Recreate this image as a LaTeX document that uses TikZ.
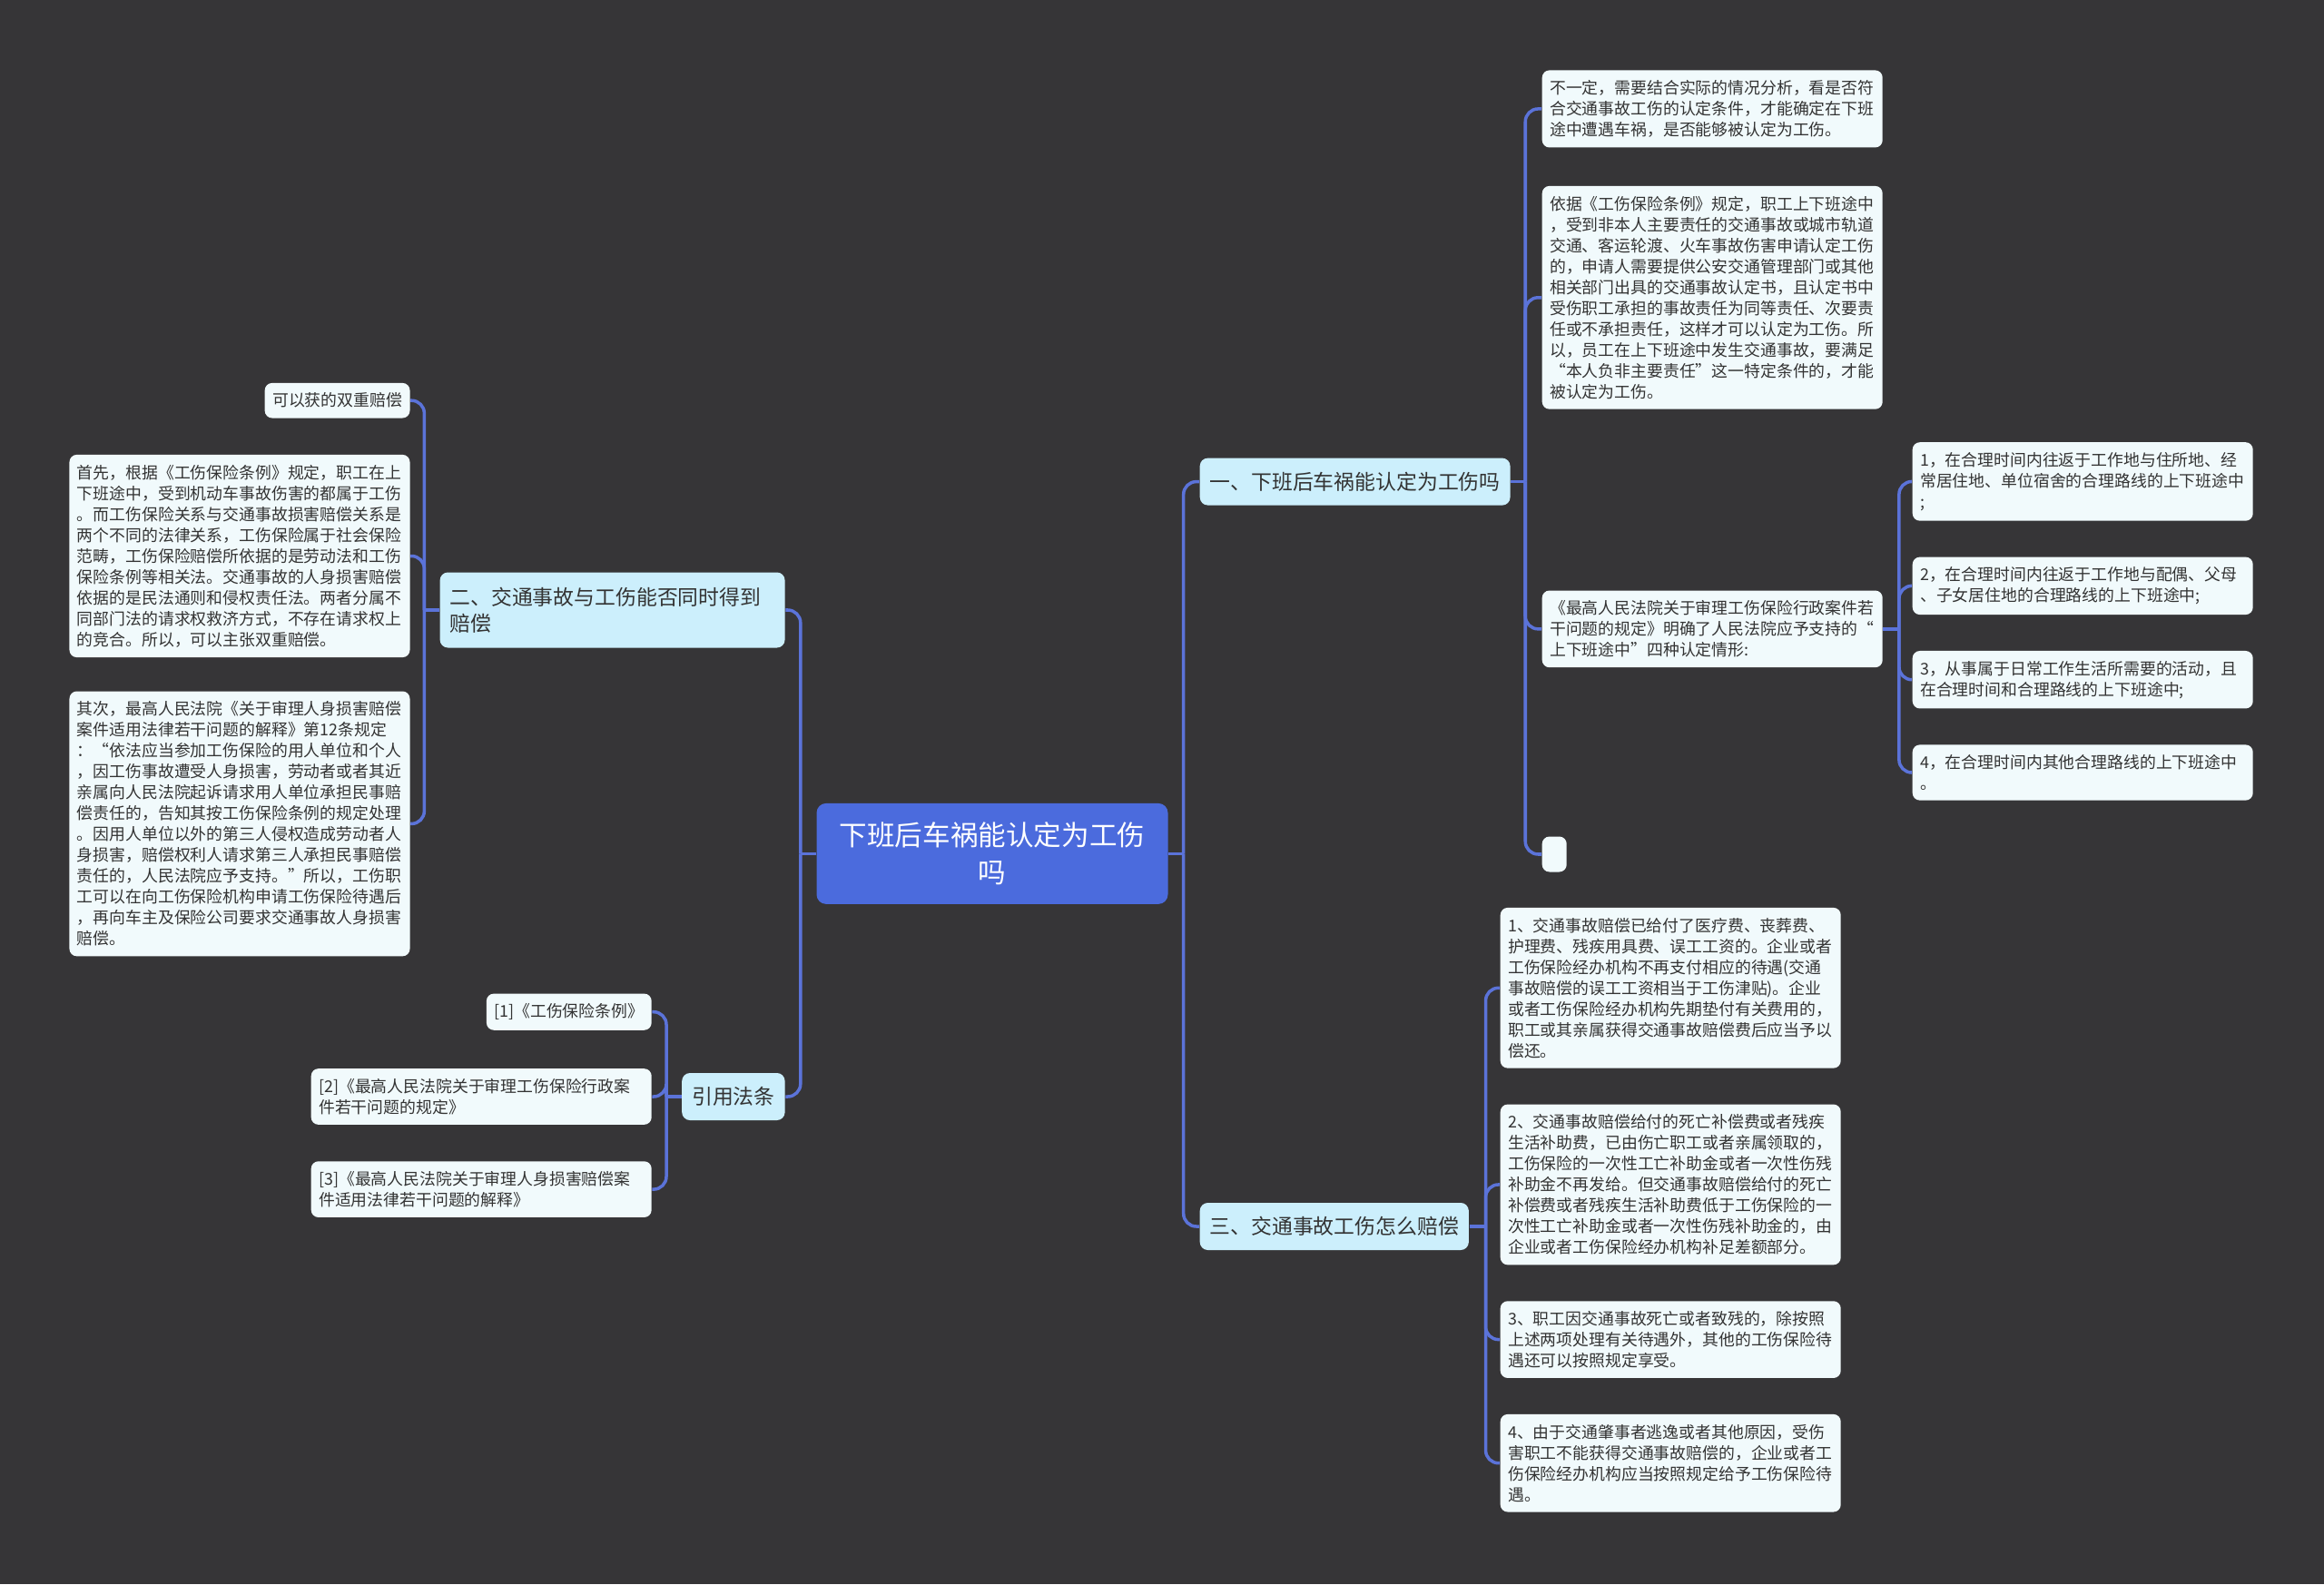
\documentclass[tikz,border=0pt]{standalone}
\usepackage{fontspec}
\setmainfont{Noto Sans CJK SC}
\usepackage{tikz}
\usetikzlibrary{positioning, calc}
\definecolor{bgdark}{HTML}{363537}
\definecolor{linkblue}{HTML}{5B73D9}
\definecolor{rootblue}{HTML}{4B6BDD}
\definecolor{branchcyan}{HTML}{CCEFFC}
\definecolor{leafwhite}{HTML}{F1FAFC}
\definecolor{inkgray}{HTML}{333333}
\tikzset{
  rootbox/.style={rectangle, rounded corners=3pt, fill=rootblue, text=white,
                  text width=3.4cm, align=center, inner xsep=0.235cm,
                  minimum height=1.11cm,
                  font={\fontsize{8.7pt}{11.6pt}\selectfont}},
  branchbox/.style={rectangle, rounded corners=2.5pt, fill=branchcyan,
                    text=inkgray, inner xsep=0.11cm, inner ysep=0.1cm,
                    minimum height=0.52cm,
                    font={\fontsize{6.5pt}{8.3pt}\selectfont}},
  leafbase/.style={rectangle, rounded corners=2.3pt, fill=leafwhite,
                   text=inkgray, inner xsep=0.085cm, inner ysep=0.11cm,
                   font={\fontsize{5.08pt}{6.55pt}\selectfont}},
  leafbox/.style={leafbase, text width=3.58cm, align=left},
  link/.style={draw=linkblue, line width=1pt, rounded corners=4pt},
}

\begin{document}
\begin{tikzpicture}[node distance=0.385cm]
  \fill[bgdark] (0,0) rectangle (25.6,17.45);
  \useasboundingbox (0,0) rectangle (25.6,17.45);

  % Root
  \node[rootbox] (root) at (10.93,8.046) {下班后车祸能认定为工伤\\吗};

  % Branches
  \node[branchbox, anchor=west] (br1) at (13.21,12.144)
    {一、下班后车祸能认定为工伤吗};
  \node[branchbox, anchor=west] (br3) at (13.21,3.94)
    {三、交通事故工伤怎么赔偿};
  \node[branchbox, anchor=east, text width=3.58cm, align=left,
        minimum height=0.83cm] (br2) at (8.653,10.73)
    {二、交通事故与工伤能否同时得到\\赔偿};
  \node[branchbox, anchor=east] (br4) at (8.653,5.37) {引用法条};

  % Branch one leaves
  \node[leafbox, anchor=north west] (judge) at (16.98,16.683)
    {不一定，需要结合实际的情况分析，看是否符\\
     合交通事故工伤的认定条件，才能确定在下班\\
     途中遭遇车祸，是否能够被认定为工伤。};
  \node[leafbox, below=0.41cm of judge] (basis)
    {依据《工伤保险条例》规定，职工上下班途中\\
     ，受到非本人主要责任的交通事故或城市轨道\\
     交通、客运轮渡、火车事故伤害申请认定工伤\\
     的，申请人需要提供公安交通管理部门或其他\\
     相关部门出具的交通事故认定书，且认定书中\\
     受伤职工承担的事故责任为同等责任、次要责\\
     任或不承担责任，这样才可以认定为工伤。所\\
     以，员工在上下班途中发生交通事故，要满足\\
     “本人负非主要责任”这一特定条件的，才能\\
     被认定为工伤。};
  \node[leafbox, anchor=north west] (rule) at (16.98,10.952)
    {《最高人民法院关于审理工伤保险行政案件若\\
     干问题的规定》明确了人民法院应予支持的“\\
     上下班途中”四种认定情形:};
  \node[leafbase, anchor=north west, minimum width=0.27cm,
        minimum height=0.39cm, inner sep=0pt] (blank) at (16.98,8.242) {};

  % Four cases
  \node[leafbox, anchor=north west] (case1) at (21.06,12.585)
    {1，在合理时间内往返于工作地与住所地、经\\
     常居住地、单位宿舍的合理路线的上下班途中\\
     ;};
  \node[leafbox, below=of case1] (case2)
    {2，在合理时间内往返于工作地与配偶、父母\\
     、子女居住地的合理路线的上下班途中;};
  \node[leafbox, below=of case2] (case3)
    {3，从事属于日常工作生活所需要的活动，且\\
     在合理时间和合理路线的上下班途中;};
  \node[leafbox, below=of case3] (case4)
    {4，在合理时间内其他合理路线的上下班途中\\
     。};

  % Branch three leaves
  \node[leafbox, anchor=north west] (pay1) at (16.52,7.458)
    {1、交通事故赔偿已给付了医疗费、丧葬费、\\
     护理费、残疾用具费、误工工资的。企业或者\\
     工伤保险经办机构不再支付相应的待遇(交通\\
     事故赔偿的误工工资相当于工伤津贴)。企业\\
     或者工伤保险经办机构先期垫付有关费用的，\\
     职工或其亲属获得交通事故赔偿费后应当予以\\
     偿还。};
  \node[leafbox, below=of pay1] (pay2)
    {2、交通事故赔偿给付的死亡补偿费或者残疾\\
     生活补助费，已由伤亡职工或者亲属领取的，\\
     工伤保险的一次性工亡补助金或者一次性伤残\\
     补助金不再发给。但交通事故赔偿给付的死亡\\
     补偿费或者残疾生活补助费低于工伤保险的一\\
     次性工亡补助金或者一次性伤残补助金的，由\\
     企业或者工伤保险经办机构补足差额部分。};
  \node[leafbox, below=of pay2] (pay3)
    {3、职工因交通事故死亡或者致残的，除按照\\
     上述两项处理有关待遇外，其他的工伤保险待\\
     遇还可以按照规定享受。};
  \node[leafbox, below=of pay3] (pay4)
    {4、由于交通肇事者逃逸或者其他原因，受伤\\
     害职工不能获得交通事故赔偿的，企业或者工\\
     伤保险经办机构应当按照规定给予工伤保险待\\
     遇。};

  % Branch two leaves
  \node[leafbase, anchor=north east] (dbl) at (4.522,13.238)
    {可以获的双重赔偿};
  \node[leafbox, below=0.39cm of dbl.south east, anchor=north east] (first)
    {首先，根据《工伤保险条例》规定，职工在上\\
     下班途中，受到机动车事故伤害的都属于工伤\\
     。而工伤保险关系与交通事故损害赔偿关系是\\
     两个不同的法律关系，工伤保险属于社会保险\\
     范畴，工伤保险赔偿所依据的是劳动法和工伤\\
     保险条例等相关法。交通事故的人身损害赔偿\\
     依据的是民法通则和侵权责任法。两者分属不\\
     同部门法的请求权救济方式，不存在请求权上\\
     的竞合。所以，可以主张双重赔偿。};
  \node[leafbox, below=0.36cm of first] (second)
    {其次，最高人民法院《关于审理人身损害赔偿\\
     案件适用法律若干问题的解释》第12条规定\\
     ：“依法应当参加工伤保险的用人单位和个人\\
     ，因工伤事故遭受人身损害，劳动者或者其近\\
     亲属向人民法院起诉请求用人单位承担民事赔\\
     偿责任的，告知其按工伤保险条例的规定处理\\
     。因用人单位以外的第三人侵权造成劳动者人\\
     身损害，赔偿权利人请求第三人承担民事赔偿\\
     责任的，人民法院应予支持。”所以，工伤职\\
     工可以在向工伤保险机构申请工伤保险待遇后\\
     ，再向车主及保险公司要求交通事故人身损害\\
     赔偿。};

  % References
  \node[leafbase, anchor=north east] (ref1) at (7.184,6.511)
    {[1]《工伤保险条例》};
  \node[leafbox, below=0.41cm of ref1.south east, anchor=north east] (ref2)
    {[2]《最高人民法院关于审理工伤保险行政案\\
     件若干问题的规定》};
  \node[leafbox, below=0.39cm of ref2] (ref3)
    {[3]《最高人民法院关于审理人身损害赔偿案\\
     件适用法律若干问题的解释》};

  % Connectors
  \coordinate (jl) at ([xshift=-0.17cm]root.west);
  \coordinate (jr) at ([xshift=0.165cm]root.east);
  \coordinate (j1) at ([xshift=0.16cm]br1.east);
  \coordinate (jc) at ([xshift=0.175cm]rule.east);
  \coordinate (j3) at ([xshift=0.18cm]br3.east);
  \coordinate (j2) at ([xshift=-0.165cm]br2.west);
  \coordinate (j4) at ([xshift=-0.165cm]br4.west);

  \draw[link] (root.west) -- (jl);
  \draw[link] (root.east) -- (jr);
  \foreach \n in {br2,br4} \draw[link] (jl) |- (\n.east);
  \foreach \n in {br1,br3} \draw[link] (jr) |- (\n.west);

  \draw[link] (br1.east) -- (j1);
  \foreach \n in {judge,basis,rule,blank} \draw[link] (j1) |- (\n.west);
  \draw[link] (rule.east) -- (jc);
  \foreach \n in {case1,case2,case3,case4} \draw[link] (jc) |- (\n.west);
  \draw[link] (br3.east) -- (j3);
  \foreach \n in {pay1,pay2,pay3,pay4} \draw[link] (j3) |- (\n.west);
  \draw[link] (br2.west) -- (j2);
  \foreach \n in {dbl,first,second} \draw[link] (j2) |- (\n.east);
  \draw[link] (br4.west) -- (j4);
  \foreach \n in {ref1,ref2,ref3} \draw[link] (j4) |- (\n.east);
\end{tikzpicture}
\end{document}
